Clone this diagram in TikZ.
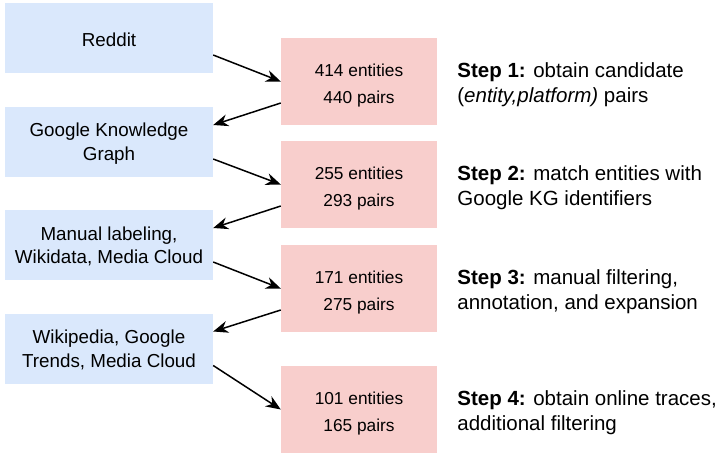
\documentclass[tikz,border=0pt]{standalone}
\usepackage{fontspec}
\setmainfont{Liberation Sans}
\usetikzlibrary{arrows.meta}
\definecolor{srcblue}{HTML}{DAE8FC}
\definecolor{cntpink}{HTML}{F8CECC}

\begin{document}
\begin{tikzpicture}[x=1pt,y=-1pt,
    src/.style={fill=srcblue,minimum width=208pt,minimum height=70pt,inner sep=0pt,
      align=center,font=\fontsize{18.8}{23.5}\selectfont},
    cnt/.style={fill=cntpink,minimum width=156pt,minimum height=87pt,inner sep=0pt,
      align=center,font=\fontsize{17.3}{26.5}\selectfont},
    note/.style={anchor=west,inner sep=0pt,align=left,font=\fontsize{20.5}{25}\selectfont},
    flow/.style={-{Stealth[length=15pt,width=12pt]},line width=1.5pt}]
  \useasboundingbox (0,0) rectangle (718,453);

  \def \Sources {
    s1/38/{Reddit},
    s2/142/{Google Knowledge\\Graph},
    {s3/245/{Manual labeling,\\Wikidata, Media Cloud}},
    {s4/348.5/{Wikipedia, Google\\Trends, Media Cloud}}}
  \def \Counts {
    c1/81.5/414/440,
    c2/184.5/255/293,
    c3/288.5/171/275,
    c4/409.5/101/165}
  \def \Steps {
    t1/c1/1/{obtain candidate\\(\textit{entity,platform)} pairs},
    t2/c2/2/{match entities with\\Google KG identifiers},
    {t3/c3/3/{manual filtering,\\annotation, and expansion}},
    {t4/c4/4/{obtain online traces,\\additional filtering}}}

  \foreach \id / \y / \txt in \Sources {
    \node[src] (\id) at (109, \y) {\rule{0pt}{16.7pt}\txt};
  }
  \foreach \id / \y / \ent / \prs in \Counts {
    \node[cnt] (\id) at (359, \y) {\rule{0pt}{20.6pt}\ent{} entities\\\prs{} pairs};
  }
  \foreach \id / \at / \k / \txt in \Steps {
    \node[note] (\id) at ([xshift=20pt,yshift=-3pt]\at.east) {\textbf{Step \k:} \txt};
  }

  % down into the counts, back out to the next source
  \foreach \s / \c in {s1/c1, s2/c2, s3/c3, s4/c4} {
    \draw[flow] ([yshift=-17pt]\s.east) -- (\c.west);
  }
  \foreach \c / \s in {c1/s2, c2/s3, c3/s4} {
    \draw[flow] ([yshift=-21.5pt]\c.west) -- ([yshift=17pt]\s.east);
  }
\end{tikzpicture}
\end{document}
